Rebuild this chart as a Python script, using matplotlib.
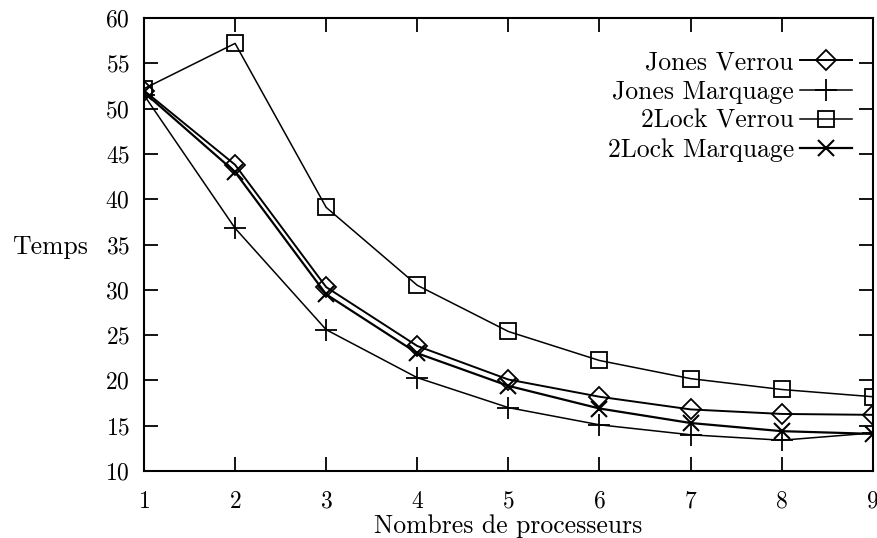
import matplotlib
matplotlib.use("Agg")
import matplotlib.pyplot as plt

procs = [1, 2, 3, 4, 5, 6, 7, 8, 9]
jones_verrou = [52.0, 43.8, 30.3, 23.8, 20.1, 18.2, 16.8, 16.3, 16.2]
jones_marquage = [51.5, 36.8, 25.6, 20.3, 17.0, 15.1, 14.0, 13.4, 14.2]
lock_verrou = [52.2, 57.2, 39.1, 30.5, 25.4, 22.2, 20.2, 19.0, 18.2]
lock_marquage = [51.8, 43.0, 29.5, 23.0, 19.4, 16.9, 15.3, 14.4, 14.1]
labels = ["Jones Verrou", "Jones Marquage", "2Lock Verrou", "2Lock Marquage"]
xticks = [1, 2, 3, 4, 5, 6, 7, 8, 9]
yticks = [10, 15, 20, 25, 30, 35, 40, 45, 50, 55, 60]

plt.rcParams['font.family'] = ['cmr10', 'DejaVu Serif']
plt.rcParams['axes.formatter.use_mathtext'] = True

fig = plt.figure(figsize=(8.78, 5.38), dpi=100)
ax = fig.add_axes([0.164, 0.1245, 0.830, 0.842])

ax.plot(procs, jones_verrou, color='black', lw=1.4, marker='D', ms=10,
        mfc='none', mec='black', mew=1.3, label=labels[0])
ax.plot(procs, jones_marquage, color='black', lw=1.1, marker='+', ms=16,
        mec='black', mew=1.3, label=labels[1])
ax.plot(procs, lock_verrou, color='black', lw=1.1, marker='s', ms=12,
        mfc='none', mec='black', mew=1.3, label=labels[2])
ax.plot(procs, lock_marquage, color='black', lw=1.6, marker='x', ms=11,
        mec='black', mew=1.5, label=labels[3])

ax.set_xlim(1, 9)
ax.set_ylim(10, 60)
ax.set_xticks(xticks)
ax.set_yticks(yticks)
ax.tick_params(direction='in', length=10, width=1.3, top=True, right=True,
               labelsize=17, colors='black')
ax.tick_params(axis='y', pad=10)
ax.tick_params(axis='x', pad=14)
for s in ax.spines.values():
    s.set_linewidth(1.5)

ax.set_xlabel("Nombres de processeurs", fontsize=18.5, labelpad=1)
ax.set_ylabel("Temps", fontsize=18.5, rotation=0, ha='left', va='center')
ax.yaxis.set_label_coords(-0.181, 0.494)

leg = ax.legend(loc='upper right', bbox_to_anchor=(0.971, 0.928), frameon=False,
                markerfirst=False, fontsize=18.5, handlelength=2.0,
                handletextpad=0.25, labelspacing=0.21, borderaxespad=0,
                borderpad=0)

fig.savefig("out.png", dpi=100)
